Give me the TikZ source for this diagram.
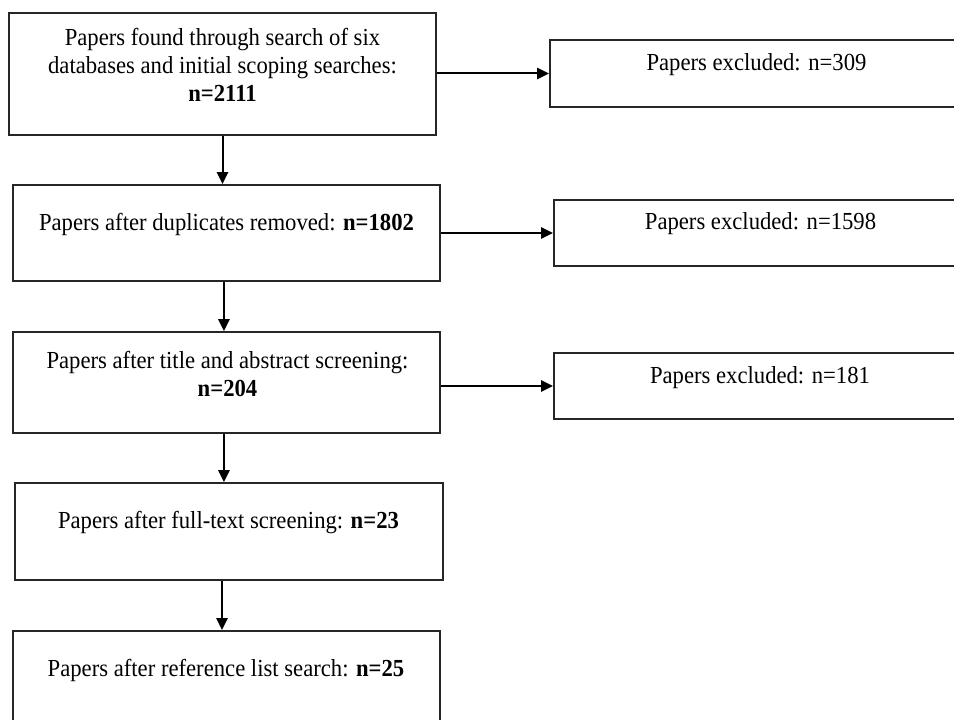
\documentclass[tikz,border=0pt]{standalone}
\usepackage{fontspec}
\setmainfont{Liberation Serif}
\usetikzlibrary{arrows.meta}
\begin{document}
\begin{tikzpicture}[x=0.75pt,y=-0.75pt,
  box/.style={draw=black!85, line width=1.4pt, rectangle, inner sep=0pt},
  lbl/.style={inner sep=0pt, align=center, font=\fontsize{17}{19.5}\selectfont, transform shape, yscale=1.08},
  arr/.style={line width=1.5pt, -{Triangle[length=9pt,width=8.5pt]}}]
\useasboundingbox (0,0) rectangle (954,720);
\clip (0,0) rectangle (954,720);
% main column boxes
\node[box, minimum width=320.25pt, minimum height=91.5pt] (b1) at (222.5,74) {};
\node[box, minimum width=320.25pt, minimum height=72pt] (b2) at (226.5,233) {};
\node[box, minimum width=320.25pt, minimum height=75.75pt] (b3) at (226.5,382.5) {};
\node[box, minimum width=321pt, minimum height=72.75pt] (b4) at (229,531.5) {};
\node[box, minimum width=320.25pt, minimum height=75pt] (b5) at (226.5,681) {};
% right boxes (cut by the picture edge)
\node[box, minimum width=337.5pt, minimum height=50.25pt] (r1) at (775,73.5) {};
\node[box, minimum width=334.5pt, minimum height=49.5pt] (r2) at (777,233) {};
\node[box, minimum width=334.5pt, minimum height=49.5pt] (r3) at (777,386) {};
% texts
\node[lbl] (t1) at (222.5,65) {Papers found through search of six\\databases and initial scoping searches:\\\textbf{n=2111}};
\node[lbl] (t2) at (226.5,224) {Papers after duplicates removed: \textbf{n=1802}};
\node[lbl] (t3) at (227.5,374) {Papers after title and abstract screening:\\\textbf{n=204}};
\node[lbl] (t4) at (228.5,523) {Papers after full-text screening: \textbf{n=23}};
\node[lbl] (t5) at (226,670) {Papers after reference list search: \textbf{n=25}};
\node[lbl] (u1) at (756.5,65) {Papers excluded: n=309};
\node[lbl] (u2) at (760.5,224) {Papers excluded: n=1598};
\node[lbl] (u3) at (760,378) {Papers excluded: n=181};
% vertical arrows
\draw[arr] (b1.south) -- (b1.south |- b2.north);
\draw[arr] ([xshift=-1.9pt]b2.south) -- ([xshift=-1.9pt]b2.south |- b3.north);
\draw[arr] ([xshift=-1.9pt]b3.south) -- ([xshift=-1.9pt]b3.south |- b4.north);
\draw[arr] ([xshift=-5.25pt]b4.south) -- ([xshift=-5.25pt]b4.south |- b5.north);
% horizontal arrows
\draw[arr] (b1.east |- r1.west) -- (r1.west);
\draw[arr] (b2.east |- r2.west) -- (r2.west);
\draw[arr] (b3.east |- r3.west) -- (r3.west);
\end{tikzpicture}
\end{document}
